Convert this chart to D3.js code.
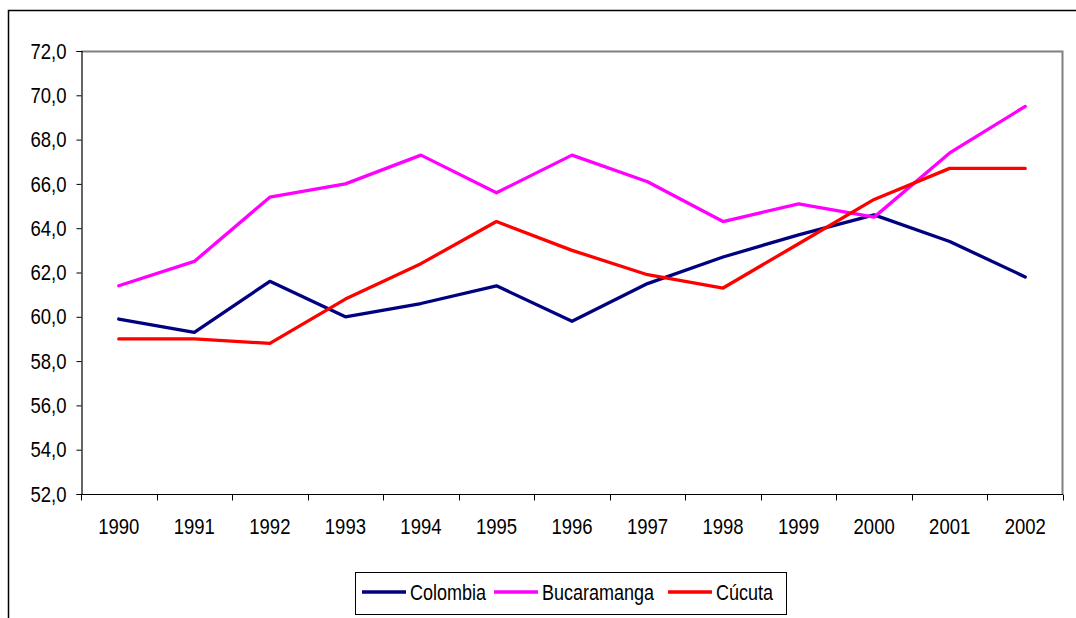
<!DOCTYPE html>
<html>
<head>
<meta charset="utf-8">
<script src="https://cdn.jsdelivr.net/npm/d3@7"></script>
<style>
  body { margin: 0; background: #fff; }
  text { font-family: "Liberation Sans", Arial, sans-serif; }
</style>
</head>
<body>
<script>
var years = ["1990","1991","1992","1993","1994","1995","1996","1997","1998","1999","2000","2001","2002"];
var colombia    = [59.9, 59.3, 61.6, 60.0, 60.6, 61.4, 59.8, 61.5, 62.7, 63.7, 64.6, 63.4, 61.8];
var bucaramanga = [61.4, 62.5, 65.4, 66.0, 67.3, 65.6, 67.3, 66.1, 64.3, 65.1, 64.5, 67.4, 69.5];
var cucuta      = [59.0, 59.0, 58.8, 60.8, 62.4, 64.3, 63.0, 61.9, 61.3, 63.3, 65.3, 66.7, 66.7];
var yTicks = [52, 54, 56, 58, 60, 62, 64, 66, 68, 70, 72];

var series = [
    {name: "Colombia", values: colombia, color: "#000080"},
    {name: "Bucaramanga", values: bucaramanga, color: "#FF00FF"},
    {name: "Cúcuta", values: cucuta, color: "#FF0000"}
];

var W = 1076, H = 618;
var plot = {left: 81, top: 51, right: 1063, bottom: 494};
var fontSize = "18.5px";
var stretch = "scale(1,1.2)"; // the original font is drawn a bit taller

var svg = d3.select("body").append("svg")
    .attr("width", W)
    .attr("height", H);

// outer chart border (cropped at right and bottom)
svg.append("path")
    .attr("d", "M8.5," + H + " L8.5,10.5 L" + W + ",10.5")
    .style("fill", "none")
    .style("stroke", "black")
    .style("stroke-width", 1.5);

var x = d3.scaleBand().domain(years).range([plot.left, plot.right]);
var y = d3.scaleLinear().domain([52, 72]).range([plot.bottom, plot.top]);

// plot area frame (top and right grey)
svg.append("path")
    .attr("d", "M" + plot.left + "," + (plot.top + 0.5) + " L" + (plot.right - 0.5) + "," + (plot.top + 0.5) + " L" + (plot.right - 0.5) + "," + plot.bottom)
    .style("fill", "none")
    .style("stroke", "#808080")
    .style("stroke-width", 2);

// y axis
var yAxis = d3.axisLeft(y).tickValues(yTicks).tickSize(5).tickPadding(10)
    .tickFormat(function(d) { return d3.format(".1f")(d).replace(".", ","); });
var gy = svg.append("g")
    .attr("transform", "translate(" + (plot.left + 0.5) + ",0)")
    .call(yAxis);
gy.select(".domain").attr("stroke", "black").attr("stroke-width", 1.2);
gy.selectAll(".tick line").attr("stroke", "black");
gy.selectAll(".tick text").attr("font-size", fontSize).attr("fill", "black")
    .attr("font-family", "Liberation Sans, Arial, sans-serif")
    .attr("transform", stretch);

// x axis: ticks at category boundaries
var gx = svg.append("g")
    .attr("transform", "translate(0," + (plot.bottom + 0.5) + ")");
gx.append("line")
    .attr("x1", plot.left).attr("x2", plot.right)
    .attr("stroke", "black").attr("stroke-width", 1.2);
var bounds = years.map(function(d) { return x(d); }).concat([x(years[years.length - 1]) + x.bandwidth()]);
gx.selectAll(".xt").data(bounds).enter().append("line")
    .attr("class", "xt")
    .attr("x1", function(d) { return Math.round(d) + 0.5; })
    .attr("x2", function(d) { return Math.round(d) + 0.5; })
    .attr("y1", 0).attr("y2", 6)
    .attr("stroke", "black");
gx.selectAll(".xl").data(years).enter().append("text")
    .attr("class", "xl")
    .attr("transform", function(d) {
        return "translate(" + (x(d) + x.bandwidth() / 2) + ",39.5) " + stretch;
    })
    .attr("text-anchor", "middle")
    .attr("font-size", fontSize)
    .text(function(d) { return d; });

// lines
var line = d3.line()
    .x(function(d, i) { return x(years[i]) + x.bandwidth() / 2; })
    .y(function(d) { return y(d); });

series.forEach(function(s) {
    svg.append("path")
        .datum(s.values)
        .attr("d", line)
        .style("fill", "none")
        .style("stroke", s.color)
        .style("stroke-width", 3.3)
        .style("stroke-linejoin", "round")
        .style("stroke-linecap", "round");
});

// legend
var legend = svg.append("g");
legend.append("rect")
    .attr("x", 355.5).attr("y", 572.5)
    .attr("width", 431).attr("height", 42)
    .style("fill", "white")
    .style("stroke", "black")
    .style("stroke-width", 1);
var legX = [362, 494, 668];
series.forEach(function(s, i) {
    legend.append("line")
        .attr("x1", legX[i]).attr("x2", legX[i] + 44)
        .attr("y1", 592).attr("y2", 592)
        .style("stroke", s.color)
        .style("stroke-width", 3.3);
    legend.append("text")
        .attr("transform", "translate(" + (legX[i] + 48) + ",600) " + stretch)
        .attr("font-size", "18px")
        .text(s.name);
});
</script>
</body>
</html>
